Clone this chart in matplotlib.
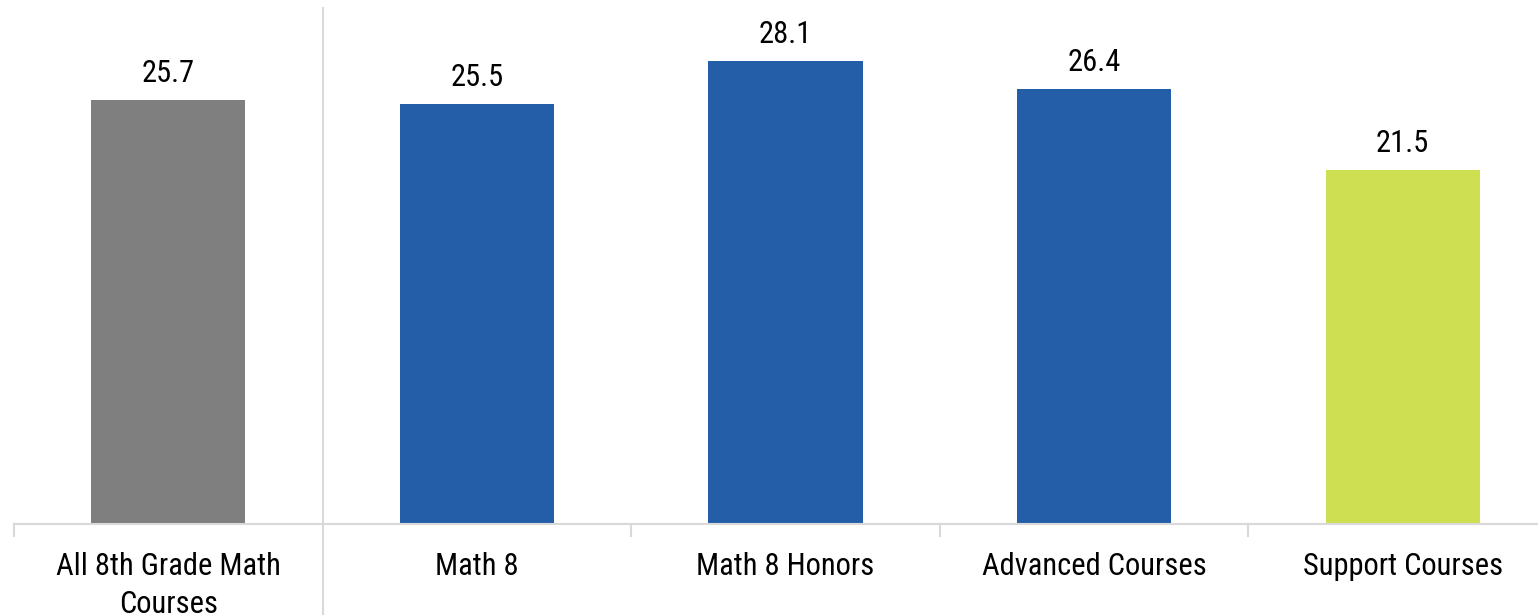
import matplotlib
matplotlib.use("Agg")
import matplotlib.pyplot as plt

categories = ["All 8th Grade Math\nCourses", "Math 8", "Math 8 Honors",
              "Advanced Courses", "Support Courses"]
values = [25.7, 25.5, 28.1, 26.4, 21.5]
colors = ["#7f7f7f", "#255ea8", "#255ea8", "#255ea8", "#cfdf52"]

plt.rcParams["font.family"] = ["Roboto Condensed", "DejaVu Sans"]
FS = 22

W, H = 1538, 615
fig = plt.figure(figsize=(W / 100, H / 100), dpi=100)
# axes runs past the right edge, so the last slot is cut off
x0, x1, y0, y1 = 14, 1557, 8, 524
ax = fig.add_axes([x0 / W, 1 - y1 / H, (x1 - x0) / W, (y1 - y0) / H])

pos = list(range(len(values)))
bars = ax.bar(pos, values, width=0.5, color=colors)
for b, v in zip(bars, values):
    ax.annotate(f"{v:.1f}", (b.get_x() + b.get_width() / 2, v),
                xytext=(0, 13), textcoords="offset points",
                ha="center", va="baseline", fontsize=FS)

ax.set_xlim(-0.5, len(values) - 0.5)
ax.set_ylim(0, 31.3)
for s in ["top", "right", "left"]:
    ax.spines[s].set_visible(False)
ax.spines["bottom"].set_color("#d9d9d9")
ax.spines["bottom"].set_linewidth(1.5)
ax.set_yticks([])
ax.set_xticks(pos)
ax.set_xticklabels(categories, fontsize=FS, linespacing=1.38)
ax.tick_params(axis="x", length=0, pad=20)

# small ticks at the category boundaries
for b in [-0.5, 1.5, 2.5, 3.5]:
    ax.plot([b, b], [0, -0.7], color="#d9d9d9", lw=1.5, clip_on=False)
# full-height divider after the overall bar
ax.plot([0.5, 0.5], [-5.6, 31.3], color="#d9d9d9", lw=1.5, clip_on=False)

fig.savefig("out.png", dpi=100)
